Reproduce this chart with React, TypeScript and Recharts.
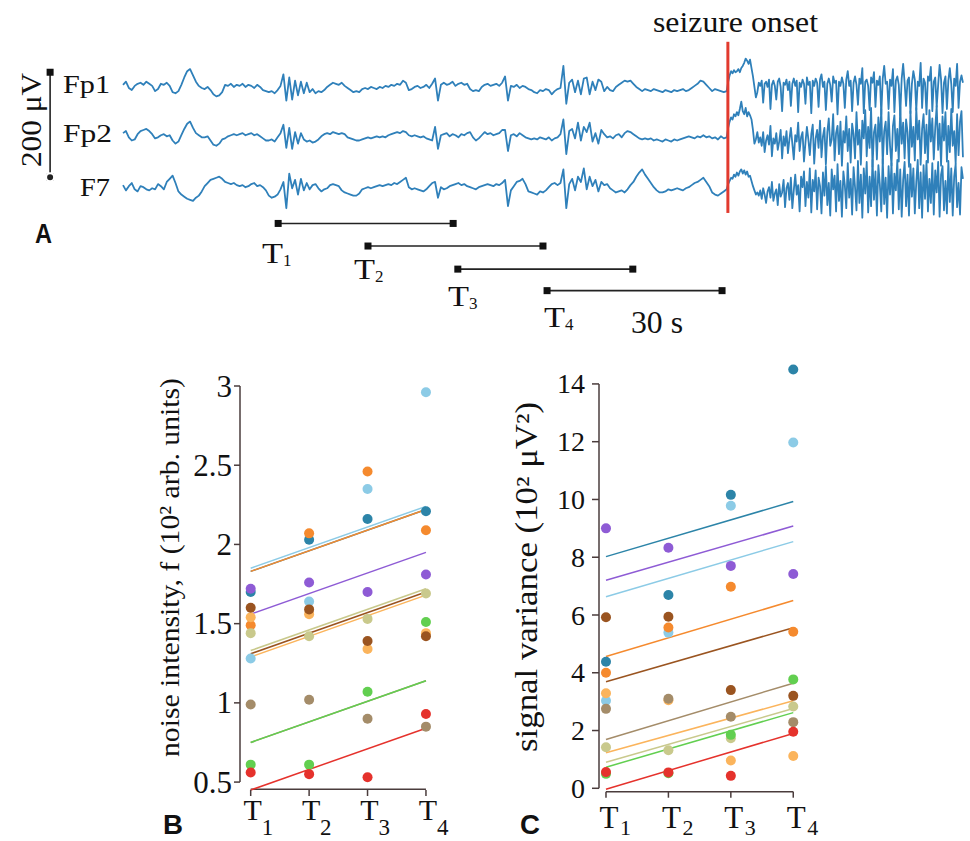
import { ComposedChart, Line, Scatter, XAxis, YAxis, ReferenceLine } from 'recharts';

// ---------- panel A: EEG in µV ----------
// before the onset one sample every 0.5 s from t = 0, after it one every 0.25 s
const preStep = 0.5;
const postStep = 0.25;
const postStart = 103.75;

const fp1Pre = [
  4, 10, -2, -6, 2, 6, 8, 4, 10, 6,
  2, -8, -4, 6, 4, 8, 2, -10, -12, -8,
  4, 18, 30, 34, 22, 10, 2, -2, -4, 0,
  -6, -14, -18, -16, -10, 4, 2, 6, 0, 4,
  2, 6, 0, 4, 2, -2, 4, 0, -6, -8,
  -10, -8, -12, -6, 2, 24, -26, 18, -24, 12,
  -16, 10, -12, 8, -10, -4, -12, -8, -10, -6,
  0, 4, 8, 6, 4, 8, 2, -2, -6, -10,
  -8, -10, -4, -2, -4, 0, -2, -4, 0, -2,
  2, 0, 4, 2, 6, 4, 12, 8, -6, -4,
  0, 2, -2, 0, 4, -2, 6, 16, -26, 4,
  8, 4, 6, 10, 2, 6, 8, 4, 6, -4,
  -8, -6, -8, 0, 4, 6, 2, 4, 6, 2,
  8, 20, -26, 2, 0, 4, -2, 2, 0, -4,
  -6, -10, -12, -6, -8, -4, -6, -14, -8, -4,
  -2, 40, -32, 8, 14, -10, 12, -14, 16, 18,
  -14, 10, -6, 14, 10, -8, 0, -6, -8, 0,
  4, 8, 12, 10, 12, 6, 0, -4, -8, -4,
  -6, -8, -4, -6, -8, -10, -6, -8, -10, -6,
  -8, -6, -4, -8, -6, -2, 2, 6, 12, 10,
  4, -2, -8, -4, -6, -8, -10, -8,
];
const fp1Post = [
  10, 22, 30, 26, 32, 28, 30, 34, 28, 36, 40, 46, 54, 50, 44, 52, 36, 20, 0, -20, -10,
  8, 2, 12, -30, 6, 10, 0, 14, -42, 4, 12, 2, -24, 10, 16, 0, -46, 8, 4, 14,
  -6, 10, -36, 6, 16, 2, 12, -48, 8, 0, 14, 6, -32, 18, 4, 10, -50, 12, 2, 16,
  8, -38, 14, 24, 0, 10, -44, 6, 16, 4, -28, 20, 8, 12, -52, 10, 2, 18, 6, -40,
  14, 30, 2, 12, -46, 8, 20, 4, -34, 16, 6, 36, -50, 10, 14, 2, -44, 18, 8, 28,
  -38, 12, 4, 20, -52, 16, 40, 6, 10, -42, 14, 2, 34, -48, 12, 20, 4, -54, 16, 44,
  8, -36, 12, 18, -50, 6, 30, 14, -44, 10, 2, 46, -40, 16, 8, -52, 20, 12, 38, -46,
  10, 18, -38, 4, 42, 14, -50, 8, 20, -42, 12, 36, 6, -48, 16, 2, 44, -40, 10, 22, 8,
];

const fp2Pre = [
  4, 8, -4, -10, -8, 2, 8, 10, 12, 8,
  2, -6, -4, 0, 2, -2, 0, -10, -16, -12,
  0, 12, 22, 26, 14, 4, 0, -4, -4, -2,
  -10, -18, -20, -16, -8, -6, -2, 0, 2, 0,
  2, 4, 0, 2, 4, 0, 2, -2, -6, -10,
  -10, -8, -12, -4, 4, 20, -24, 14, -26, 6,
  -16, 4, -8, -12, -10, -14, -12, -8, -2, 2,
  4, 2, 6, 4, 2, 4, 2, -4, -6, -8,
  -10, -10, -8, -6, -4, -6, -4, -2, -4, -2,
  -4, 0, 2, 4, 6, 4, 8, 6, 0, -2,
  0, -2, -4, -2, -6, -8, -10, 16, -26, 0,
  2, 4, -2, 2, 0, -4, 2, 0, 4, 6,
  -4, -10, -6, 0, 6, 2, 4, 0, 2, 4,
  10, 10, -30, 0, 2, -2, 4, 0, -4, -6,
  -8, -6, -8, -4, -6, -8, -4, -10, -6, -4,
  2, 30, -36, 8, 12, -6, 24, -10, 16, 6,
  24, -12, 4, -16, 10, 2, -4, -2, -6, 0,
  2, -4, 4, 8, 6, 2, -2, -6, -8, -6,
  -8, -6, -10, -8, -10, -12, -8, -10, -12, -8,
  -10, -8, -6, -4, -2, -4, -6, -2, -4, 0,
  -4, -2, -6, -4, -8, -2, -6, -4,
];
const fp2Post = [
  14, 26, 34, 30, 40, 36, 44, 38, 50, 64, 46, 40, 52, 36, 44, 38, 30, 10, -16, -8, 6,
  -14, -4, -20, 6, -32, -10, 0, -18, 18, -40, -6, -16, 4, -28, -12, 10, -44, -2, -20, 8,
  -34, -8, 14, -16, -46, 0, -12, 24, -30, -4, 6, -50, -14, 16, -8, -38, 2, 20, -54, -6,
  10, -24, 28, -42, -2, 14, -56, 6, 32, -20, -8, 40, -48, 4, 18, -36, 26, -58, 8, -14,
  36, -30, 12, -52, 22, 2, -44, 44, -18, 10, -56, 28, -6, 48, -40, 16, -24, 52, -60, 6,
  20, -46, 34, -12, 50, -54, 8, 26, -36, 44, -20, -58, 18, 38, -30, 12, -50, 54, -16, 24,
  -44, 30, 6, -60, 46, -22, 16, -48, 52, -8, 28, -56, 12, 40, -34, 20, -52, 48, -12, 32,
  -46, 14, 56, -28, 22, -58, 36, -10, 44, -50, 18, -32, 50, -20, 8, -54, 40, -38, 26, 46, -42,
];

const f7Pre = [
  4, -6, 2, 8, -4, -8, 2, 0, -4, -6,
  -2, -4, 6, 2, -4, 10, 16, 22, 8, -8,
  -14, -18, -22, -24, -26, -20, -16, -8, 2, 8,
  14, 16, 18, 20, 16, 10, 8, 6, 8, 4,
  2, 4, 0, 2, 6, 8, 2, 4, 0, -6,
  -16, -20, -18, -14, -4, 10, -40, 26, -2, 14,
  -14, 16, -6, 8, -4, 4, 6, -2, -8, -4,
  -2, 4, 6, 4, 2, -6, -10, -12, -14, -16,
  -16, -12, -4, -2, 0, -2, 0, 2, 4, 2,
  4, 6, 4, 8, 6, 10, 14, 18, 0, -4,
  -2, -4, -6, -8, -4, 2, 8, 10, -20, 0,
  -4, -2, 2, 4, 6, 8, 4, 6, 2, 0,
  -2, -4, 0, 2, 4, 6, 4, 2, 6, 4,
  8, 14, -36, -6, 2, 10, 12, 16, 6, -8,
  -10, -12, -14, -8, -10, -6, 0, 6, 8, 4,
  8, 34, -40, 6, 16, -6, 20, 10, 36, -4,
  20, 2, 14, -8, 10, 4, 6, -2, -6, -10,
  -8, -6, -10, -4, 4, 10, 20, 28, 34, 24,
  16, 8, 0, -6, -10, -10, -8, -4, -6, -4,
  -2, -4, -6, -2, 0, 4, 8, 10, 14, 18,
  10, 2, -10, -14, -16, -12, -8, -4,
];
const f7Post = [
  6, 12, 18, 16, 24, 20, 28, 22, 30, 34, 26, 32, 24, 30, 20, 22, 12, 2, -6, -14, -10,
  -16, -6, -22, -2, -14, -30, -8, 0, -20, 10, -26, -12, -4, -34, 6, -18, -10, 14, -38, -2,
  8, -24, 18, -40, -6, 24, -14, 4, -46, 20, 0, 30, -36, 10, -20, 36, -48, 14, -8, 32,
  -42, 18, 2, -50, 28, -16, 40, -34, 8, -54, 34, -4, 22, -46, 44, -26, 12, -56, 30, 4,
  -40, 46, -20, 16, -52, 38, 0, -44, 50, -30, 24, -58, 36, -12, 48, -48, 20, -36, 52, -24,
  30, -54, 42, 6, -46, 54, -32, 18, -58, 40, -14, 46, -50, 26, -6, 52, -42, 34, -56, 14,
  48, -36, 24, -54, 44, -18, 36, -50, 10, 52, -40, 28, -58, 42, -22, 50, -46, 16, -30, 46,
  -52, 32, -10, 48, -56, 24, 40, -44, 12, -50, 50, -28, 36, -54, 20, 44, -38, 8, -52, 38, 16,
];

const channelNames = ['Fp1', 'Fp2', 'F7'];
const onsetTime = 103.7; // s
const windowStarts = [26.6, 42.0, 57.4, 72.7]; // s
const windowLength = 30; // s
const scaleBarUv = 200;

// ---------- panels B and C ----------
const timeLabels = ['T1', 'T2', 'T3', 'T4'];
// series order: teal, light blue, orange, light orange, brown, tan, khaki, purple, green, red
const seriesColors = ['#2c84a8', '#8ccbe6', '#f58a2e', '#fbb45c', '#9a5420', '#a48c69', '#c9c98c', '#8e5bd5', '#62cf50', '#e5322c'];

const noiseT1 = [1.70, 1.28, 1.49, 1.54, 1.60, 0.99, 1.44, 1.72, 0.61, 0.56];
const noiseT2 = [2.03, 1.64, 2.07, 1.56, 1.59, 1.02, 1.42, 1.76, 0.61, 0.55];
const noiseT3 = [2.16, 2.35, 2.46, 1.34, 1.39, 0.90, 1.53, 1.70, 1.07, 0.53];
const noiseT4 = [2.21, 2.96, 2.09, 1.44, 1.42, 0.85, 1.69, 1.81, 1.51, 0.93];
const noiseFitT1 = [1.83, 1.85, 1.83, 1.29, 1.31, 0.75, 1.33, 1.56, 0.75, 0.45];
const noiseFitT4 = [2.22, 2.24, 2.22, 1.68, 1.70, 1.14, 1.72, 1.95, 1.14, 0.84];
const noiseTicks = [0.5, 1, 1.5, 2, 2.5, 3];

const varianceT1 = [4.38, 3.03, 4.00, 3.29, 5.92, 2.75, 1.42, 9.00, 0.50, 0.56];
const varianceT2 = [6.69, 5.39, 5.57, 3.05, 5.94, 3.10, 1.32, 8.33, 0.52, 0.55];
const varianceT3 = [10.16, 9.78, 6.98, 0.96, 3.40, 2.48, 1.73, 7.70, 1.85, 0.43];
const varianceT4 = [14.50, 11.97, 5.42, 1.12, 3.20, 2.29, 2.83, 7.42, 3.77, 1.96];
const varianceFitT1 = [8.02, 6.63, 4.56, 1.23, 3.69, 1.69, 0.90, 7.20, 0.73, -0.03];
const varianceFitT4 = [9.93, 8.54, 6.50, 3.03, 5.56, 3.64, 2.76, 9.08, 2.62, 1.90];
const varianceTicks = [0, 2, 4, 6, 8, 10, 12, 14];

const serif = 'Liberation Serif';
const sans = 'Liberation Sans';
const ink = '#111';
const axisColor = '#4a3c3c';
const traceColor = '#2f80ba';

// layout of panel A (vertical lanes in µV units)
const channelOffsets = [482, 390, 291];
const windowLanes = [222, 179, 135, 94];

function squareDot(p: any) {
  return <rect key={p.index} x={p.cx - 3.5} y={p.cy - 3.5} width={7} height={7} fill={ink} />;
}

function EegPanel() {
  const pre = [fp1Pre, fp2Pre, f7Pre];
  const post = [fp1Post, fp2Post, f7Post];
  const traces = pre.map((vals, k) => [
    ...vals.map((v, i) => ({ t: i * preStep, v: v + channelOffsets[k] })),
    ...post[k].map((v, j) => ({ t: postStart + j * postStep, v: v + channelOffsets[k] })),
  ]);
  const windows = windowStarts.map((s, k) => [
    { t: s, v: windowLanes[k] },
    { t: s + windowLength, v: windowLanes[k] },
  ]);
  const scaleBar = [{ t: -12.5, v: 310 }, { t: -12.5, v: 310 + scaleBarUv }];
  const onset = [{ t: onsetTime, v: 242 }, { t: onsetTime, v: 568 }];

  return (
    <div style={{ position: 'absolute', left: 0, top: 0 }}>
      <ComposedChart width={970} height={340} margin={{ top: 0, right: 0, bottom: 0, left: 0 }}>
        <XAxis type="number" dataKey="t" domain={[-21.09, 145.21]} hide />
        <YAxis type="number" dataKey="v" domain={[0, 647.6]} hide />
        {traces.map((d, k) => (
          <Line key={channelNames[k]} data={d} dataKey="v" type="linear" stroke={traceColor}
            strokeWidth={1.8} strokeLinejoin="round" dot={false} isAnimationActive={false} />
        ))}
        <Line data={onset} dataKey="v" stroke="#e23a2e" strokeWidth={3} dot={false} isAnimationActive={false} />
        {windows.map((d, k) => (
          <Line key={'w' + k} data={d} dataKey="v" stroke="#222" strokeWidth={1.6} dot={squareDot} isAnimationActive={false} />
        ))}
        <Line data={scaleBar} dataKey="v" stroke="#222" strokeWidth={1.6} dot={squareDot} isAnimationActive={false} />
      </ComposedChart>
    </div>
  );
}

function makeTimeTick(size: number, subSize: number, dx: number, dy: number, subDx: number, subDy: number) {
  return (props: any) => {
    const { x, y, payload } = props;
    const label = timeLabels[Math.round(payload.value) - 1] || '';
    return (
      <g>
        <text x={x + dx} y={y + dy} textAnchor="middle" fontSize={size} fontFamily={serif} fill={ink}>{label[0]}</text>
        <text x={x + subDx} y={y + subDy} textAnchor="start" fontSize={subSize} fontFamily={serif} fill={ink}>{label.slice(1)}</text>
      </g>
    );
  };
}

function makeValueTick(size: number) {
  return (props: any) => {
    const { x, y, payload } = props;
    return (
      <text x={x} y={y} textAnchor="end" dy="0.34em" fontSize={size} fontFamily={serif} fill={ink}>{payload.value}</text>
    );
  };
}

interface PanelProps {
  left: number; top: number; width: number; height: number;
  marginTop: number; marginRight: number; yAxisWidth: number; xAxisHeight: number;
  xDomain: [number, number]; yDomain: [number, number]; ticks: number[];
  columns: number[][]; fitStart: number[]; fitEnd: number[];
  yTickSize: number; yTickMargin: number; yFont: number;
  timeTick: (p: any) => any;
}

function ScatterPanel(p: PanelProps) {
  const points = seriesColors.map((_, s) => p.columns.map((col, k) => ({ x: k + 1, y: col[s] })));
  const fits = seriesColors.map((_, s) => [{ x: 1, y: p.fitStart[s] }, { x: 4, y: p.fitEnd[s] }]);
  return (
    <div style={{ position: 'absolute', left: p.left, top: p.top }}>
      <ComposedChart width={p.width} height={p.height}
        margin={{ top: p.marginTop, right: p.marginRight, bottom: 0, left: 0 }}>
        <XAxis type="number" dataKey="x" domain={p.xDomain} ticks={[1, 2, 3, 4]} height={p.xAxisHeight}
          axisLine={false} tickLine={{ stroke: axisColor, strokeWidth: 1.5 }} tickSize={6}
          tick={p.timeTick} interval={0} />
        <YAxis type="number" dataKey="y" domain={p.yDomain} ticks={p.ticks} width={p.yAxisWidth}
          axisLine={false} tickLine={{ stroke: axisColor, strokeWidth: 1.5 }} tickSize={p.yTickSize}
          tickMargin={p.yTickMargin} tick={makeValueTick(p.yFont)} interval={0} />
        <ReferenceLine segment={[{ x: p.xDomain[0], y: p.ticks[0] }, { x: p.xDomain[0], y: p.ticks[p.ticks.length - 1] }]}
          stroke={axisColor} strokeWidth={1.5} ifOverflow="visible" />
        <ReferenceLine segment={[{ x: 1, y: p.yDomain[0] }, { x: 4, y: p.yDomain[0] }]}
          stroke={axisColor} strokeWidth={1.5} ifOverflow="visible" />
        {fits.map((d, s) => (
          <Line key={'fit' + s} data={d} dataKey="y" stroke={seriesColors[s]} strokeWidth={1.5}
            dot={false} isAnimationActive={false} />
        ))}
        {points.map((d, s) => (
          <Scatter key={'pts' + s} data={d} fill={seriesColors[s]} isAnimationActive={false}
            shape={(sp: any) => <circle cx={sp.cx} cy={sp.cy} r={5} fill={seriesColors[s]} />} />
        ))}
      </ComposedChart>
    </div>
  );
}

function Labels() {
  const channelLabels = [
    { x: 63, y: 93, len: 47 },
    { x: 63, y: 142, len: 49 },
    { x: 80, y: 196, len: 30 },
  ];
  const windowLabels = [
    { x: 262, y: 263 },
    { x: 354, y: 279 },
    { x: 448, y: 306 },
    { x: 544, y: 327 },
  ];
  return (
    <svg width={970} height={841} style={{ position: 'absolute', left: 0, top: 0, pointerEvents: 'none' }}>
      <text x={653} y={32} fontSize={29} fontFamily={serif} fill={ink} textLength={165} lengthAdjust="spacingAndGlyphs">seizure onset</text>
      {channelNames.map((n, k) => (
        <text key={n} x={channelLabels[k].x} y={channelLabels[k].y} fontSize={25} fontFamily={serif} fill={ink}
          textLength={channelLabels[k].len} lengthAdjust="spacingAndGlyphs">{n}</text>
      ))}
      <text transform="translate(41,167) rotate(-90)" fontSize={30} fontFamily={serif} fill={ink}
        textLength={94} lengthAdjust="spacingAndGlyphs">200 μV</text>
      <text x={35} y={243} fontSize={27} fontWeight="bold" fontFamily={sans} fill={ink} textLength={17} lengthAdjust="spacingAndGlyphs">A</text>
      {timeLabels.map((t, k) => (
        <g key={t}>
          <text x={windowLabels[k].x} y={windowLabels[k].y} fontSize={30} fontFamily={serif} fill={ink}
            textLength={21} lengthAdjust="spacingAndGlyphs">T</text>
          <text x={windowLabels[k].x + 21} y={windowLabels[k].y + 3} fontSize={17} fontFamily={serif} fill={ink}>{t.slice(1)}</text>
        </g>
      ))}
      <text x={631} y={333} fontSize={31} fontFamily={serif} fill={ink} textLength={52} lengthAdjust="spacingAndGlyphs">30 s</text>

      <text transform="translate(179,757) rotate(-90)" fontSize={28} fontFamily={serif} fill={ink}
        textLength={379} lengthAdjust="spacingAndGlyphs">noise intensity, f (10² arb. units)</text>
      <text transform="translate(537,752) rotate(-90)" fontSize={31} fontFamily={serif} fill={ink}
        textLength={350} lengthAdjust="spacingAndGlyphs">signal variance (10² μV²)</text>
      <text x={163} y={834} fontSize={28} fontWeight="bold" fontFamily={sans} fill={ink} textLength={20} lengthAdjust="spacingAndGlyphs">B</text>
      <text x={520} y={834} fontSize={28} fontWeight="bold" fontFamily={sans} fill={ink} textLength={20} lengthAdjust="spacingAndGlyphs">C</text>
    </svg>
  );
}

export default function App() {
  return (
    <div style={{ position: 'absolute', left: 0, top: 0, width: 970, height: 841, background: '#fff', overflow: 'hidden' }}>
      <EegPanel />
      <ScatterPanel left={150} top={360} width={300} height={480} marginTop={26} marginRight={18.2}
        yAxisWidth={90} xAxisHeight={50} xDomain={[0.817, 4.1]} yDomain={[0.454, 3.0]} ticks={noiseTicks}
        columns={[noiseT1, noiseT2, noiseT3, noiseT4]} fitStart={noiseFitT1} fitEnd={noiseFitT4}
        yTickSize={6} yTickMargin={2} yFont={31} timeTick={makeTimeTick(30, 23, 2, 22, 11, 37)} />
      <ScatterPanel left={500} top={340} width={320} height={501} marginTop={26.6} marginRight={20.5}
        yAxisWidth={99} xAxisHeight={49.3} xDomain={[0.888, 4.1]} yDomain={[-0.118, 14.6]} ticks={varianceTicks}
        columns={[varianceT1, varianceT2, varianceT3, varianceT4]} fitStart={varianceFitT1} fitEnd={varianceFitT4}
        yTickSize={7} yTickMargin={7} yFont={28} timeTick={makeTimeTick(31, 22, 3, 28, 14, 35)} />
      <Labels />
    </div>
  );
}
